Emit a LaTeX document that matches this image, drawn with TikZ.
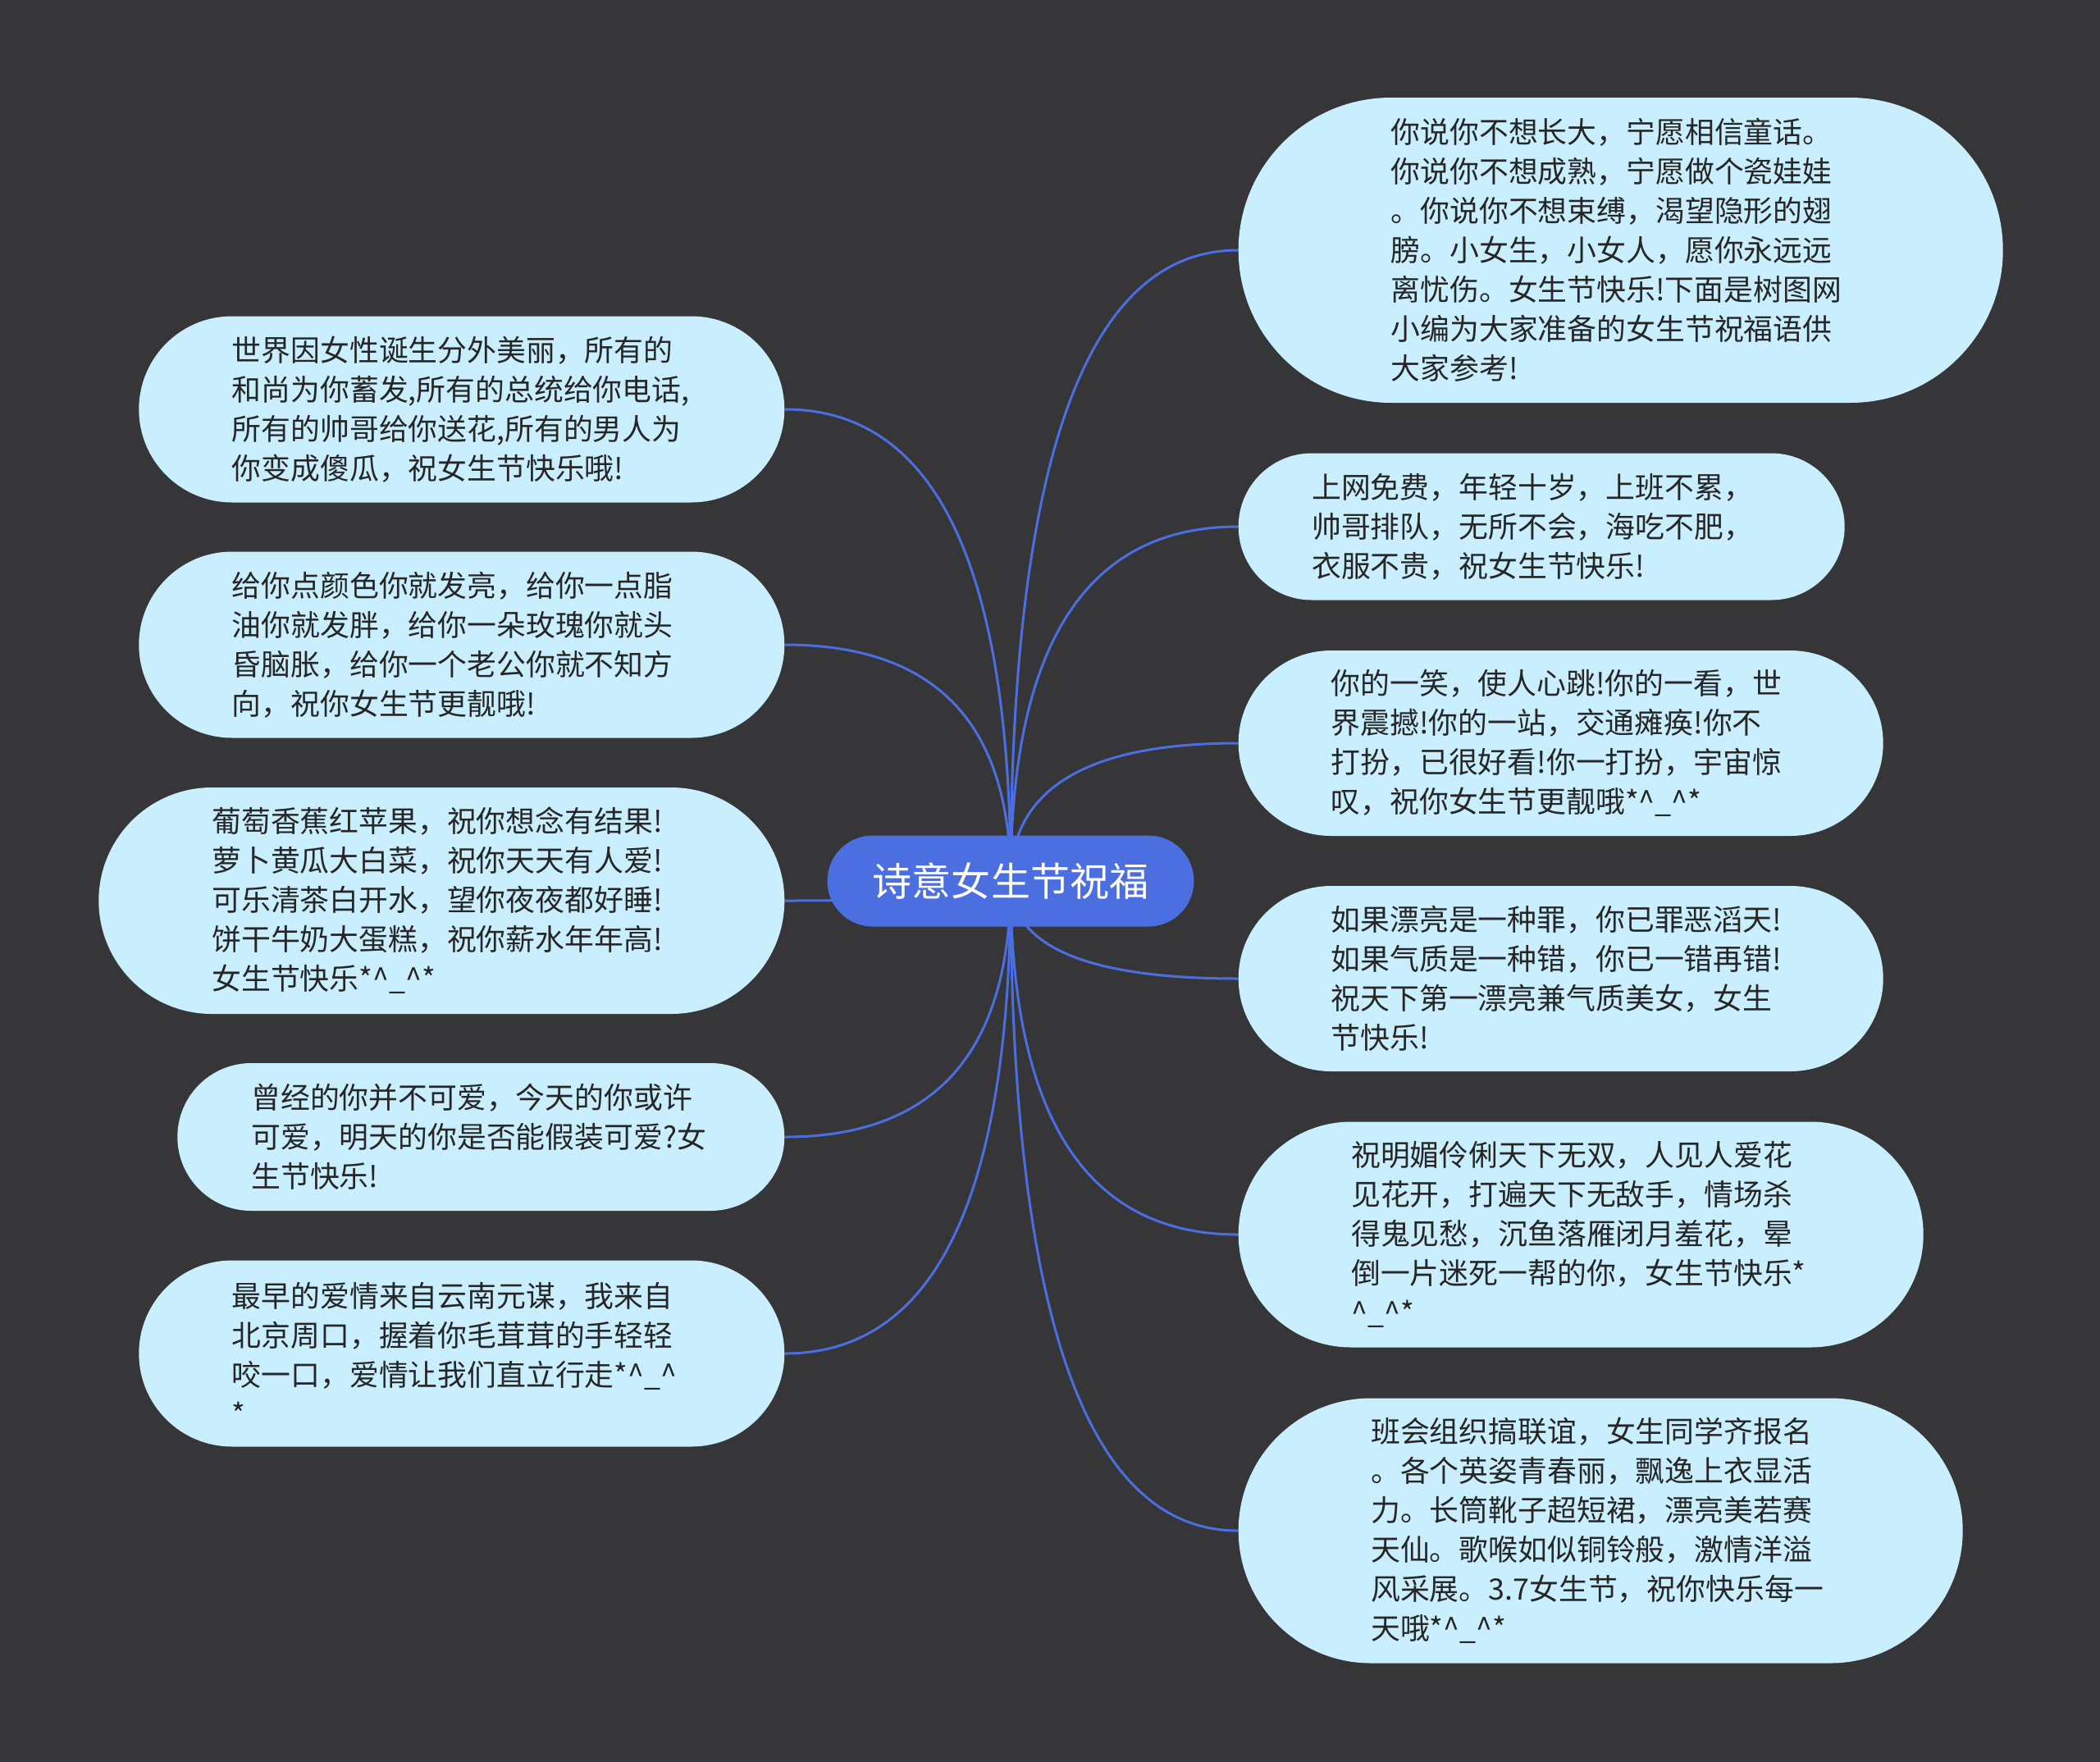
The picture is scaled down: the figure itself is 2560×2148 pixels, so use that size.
\documentclass[tikz,border=0pt]{standalone}
\usepackage{fontspec}
\setmainfont{Noto Sans CJK SC}
\usetikzlibrary{shapes.misc,calc,backgrounds}
\definecolor{canvas}{HTML}{363638}
\definecolor{leaffill}{HTML}{C9EEFD}
\definecolor{rootblue}{HTML}{4B6FE0}
\definecolor{inkgray}{HTML}{262626}

\begin{document}
\begin{tikzpicture}[
    x=0.1mm, y=-0.1mm,
    every node/.style={font=\fontsize{10.2pt}{13.66pt}\selectfont},
    root/.style={rounded rectangle, fill=rootblue, text=white, inner xsep=0pt,
        minimum width=44.7mm, minimum height=11.1mm, font=\fontsize{13.66pt}{16pt}\selectfont},
    leaf/.style={rounded rectangle, fill=leaffill, text=inkgray, inner xsep=0pt,
        text width=56mm, align=left},
    link/.style={draw=rootblue, line width=0.3mm,
        to path={.. controls ($(\tikztostart)!0.667!(\tikztostart |- \tikztotarget)$)
        and ($(\tikztotarget)!0.667!(\tikztostart |- \tikztotarget)$) .. (\tikztotarget)}}
]
\useasboundingbox (0,0) rectangle (2560,2148);

% Root
\node[root] (root) at (1232, 1074) {诗意女生节祝福};

% Right branches
\node[leaf, minimum width=93.2mm, minimum height=37.2mm, anchor=west] (rt1) at (1509, 305) {你说你不想长大，宁愿相信童话。\\你说你不想成熟，宁愿做个瓷娃娃\\。你说你不想束缚，渴望隐形的翅\\膀。小女生，小女人，愿你永远远\\离忧伤。女生节快乐!下面是树图网\\小编为大家准备的女生节祝福语供\\大家参考!};
\node[leaf, minimum width=73.9mm, minimum height=17.9mm, anchor=west] (rt2) at (1509, 642) {上网免费，年轻十岁，上班不累，\\帅哥排队，无所不会，海吃不肥，\\衣服不贵，祝女生节快乐!};
\node[leaf, minimum width=78.6mm, minimum height=22.6mm, anchor=west] (rt3) at (1509, 906) {你的一笑，使人心跳!你的一看，世\\界震撼!你的一站，交通瘫痪!你不\\打扮，已很好看!你一打扮，宇宙惊\\叹，祝你女生节更靓哦*\textasciicircum\_\textasciicircum*};
\node[leaf, minimum width=78.6mm, minimum height=22.6mm, anchor=west] (rt4) at (1509, 1193) {如果漂亮是一种罪，你已罪恶滔天!\\如果气质是一种错，你已一错再错!\\祝天下第一漂亮兼气质美女，女生\\节快乐!};
\node[leaf, minimum width=83.5mm, minimum height=27.5mm, anchor=west] (rt5) at (1509, 1505) {祝明媚伶俐天下无双，人见人爱花\\见花开，打遍天下无敌手，情场杀\\得鬼见愁，沉鱼落雁闭月羞花，晕\\倒一片迷死一帮的你，女生节快乐*\\\textasciicircum\_\textasciicircum*};
\node[leaf, minimum width=88.3mm, minimum height=32.3mm, anchor=west] (rt6) at (1509, 1866) {班会组织搞联谊，女生同学齐报名\\。各个英姿青春丽，飘逸上衣显活\\力。长筒靴子超短裙，漂亮美若赛\\天仙。歌喉如似铜铃般，激情洋溢\\风采展。3.7女生节，祝你快乐每一\\天哦*\textasciicircum\_\textasciicircum*};

% Left branches
\node[leaf, minimum width=78.7mm, minimum height=22.7mm, anchor=east] (lf1) at (957, 499) {世界因女性诞生分外美丽，所有的\\和尚为你蓄发,所有的总统给你电话,\\所有的帅哥给你送花,所有的男人为\\你变成傻瓜，祝女生节快乐哦!};
\node[leaf, minimum width=78.7mm, minimum height=22.7mm, anchor=east] (lf2) at (957, 786) {给你点颜色你就发亮，给你一点脂\\油你就发胖，给你一朵玫瑰你就头\\昏脑胀，给你一个老公你就不知方\\向，祝你女生节更靓哦!};
\node[leaf, minimum width=83.6mm, minimum height=27.6mm, anchor=east] (lf3) at (957, 1098) {葡萄香蕉红苹果，祝你想念有结果!\\萝卜黄瓜大白菜，祝你天天有人爱!\\可乐清茶白开水，望你夜夜都好睡!\\饼干牛奶大蛋糕，祝你薪水年年高!\\女生节快乐*\textasciicircum\_\textasciicircum*};
\node[leaf, minimum width=74.0mm, minimum height=18.0mm, anchor=east] (lf4) at (957, 1386) {曾经的你并不可爱，今天的你或许\\可爱，明天的你是否能假装可爱?女\\生节快乐!};
\node[leaf, minimum width=78.7mm, minimum height=22.7mm, anchor=east] (lf5) at (957, 1650) {最早的爱情来自云南元谋，我来自\\北京周口，握着你毛茸茸的手轻轻\\咬一口，爱情让我们直立行走*\textasciicircum\_\textasciicircum\\{}*};

% Links
\begin{scope}[on background layer]
\fill[canvas] (0,0) rectangle (2560,2148);
\draw[link] (root.center) to (rt1.west);
\draw[link] (root.center) to (rt2.west);
\draw[link] (root.center) to (rt3.west);
\draw[link] (root.center) to (rt4.west);
\draw[link] (root.center) to (rt5.west);
\draw[link] (root.center) to (rt6.west);
\draw[link] (root.center) to (lf1.east);
\draw[link] (root.center) to (lf2.east);
\draw[link] (root.center) to (lf3.east);
\draw[link] (root.center) to (lf4.east);
\draw[link] (root.center) to (lf5.east);
\end{scope}
\end{tikzpicture}
\end{document}
